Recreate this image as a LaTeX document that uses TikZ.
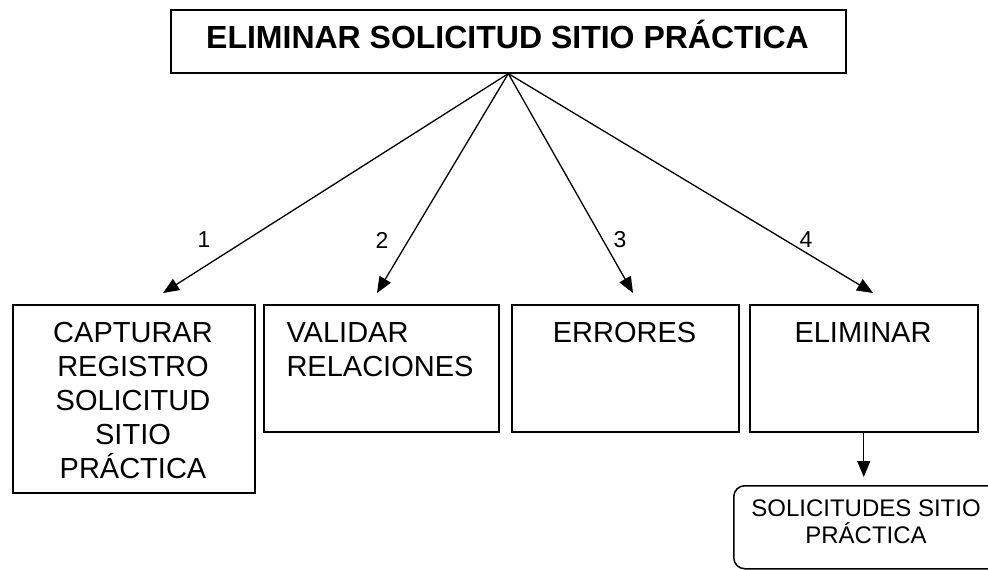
\documentclass[tikz,border=0pt]{standalone}
\usepackage{fontspec}
\setmainfont{Liberation Sans}
\usetikzlibrary{arrows.meta}

\begin{document}
\begin{tikzpicture}[x=1pt,y=-1pt,>={Triangle[length=16pt,width=13pt]},
  box/.style={draw,line width=1.5pt,anchor=north west,inner sep=0pt},
  boxtxt/.style={anchor=north,inner sep=0pt,align=center,
    font=\fontsize{29}{34}\selectfont},
  flow/.style={->,line width=1.3pt},
  num/.style={inner sep=0pt,font=\fontsize{23}{27}\selectfont}]
\useasboundingbox (0,0) rectangle (988,570);
\node[box,line width=1.6pt,minimum width=675pt,minimum height=63pt]
  (titulo) at (170,9) {};
\node[anchor=base,inner sep=0pt,font=\fontsize{32}{38}\selectfont\bfseries]
  (titulotxt) at (507.5,48) {ELIMINAR SOLICITUD SITIO PRÁCTICA};
% cajas del segundo nivel
\node[box,minimum width=242pt,minimum height=188pt] (capturar) at (12,304) {};
\node[box,minimum width=235pt,minimum height=127pt] (validar) at (263,304) {};
\node[box,minimum width=227pt,minimum height=127pt] (errores) at (511,304) {};
\node[box,minimum width=228pt,minimum height=127pt] (eliminar) at (749,304) {};
\node[boxtxt] (capturartxt) at (133,322)
  {CAPTURAR\\REGISTRO\\SOLICITUD\\SITIO\\PRÁCTICA};
\node[boxtxt,align=left] (validartxt) at (380,322) {VALIDAR\\RELACIONES};
\node[boxtxt] (errorestxt) at (624.5,322) {ERRORES};
\node[boxtxt] (eliminartxt) at (863,322) {ELIMINAR};
% almacen
\node[box,rounded corners=11pt,minimum width=267pt,minimum height=83pt]
  (solicitudes) at (733,485) {};
\node[boxtxt,font=\fontsize{24}{27}\selectfont] (solicitudestxt) at (866,500)
  {SOLICITUDES SITIO\\PRÁCTICA};
% flechas
\coordinate (t1) at (163,293);
\coordinate (t2) at (377,293);
\coordinate (t3) at (633,293);
\coordinate (t4) at (873,293);
\foreach \k in {1,...,4}
  \draw[flow] (titulo.south) -- (t\k);
\foreach \k/\px in {1/204,2/382,3/620,4/806}
  \node[num] (n\k) at (\px,240) {\k};
\draw[flow,shorten >=8pt] (eliminar.south) -- (eliminar.south |- solicitudes.north);
\end{tikzpicture}
\end{document}
